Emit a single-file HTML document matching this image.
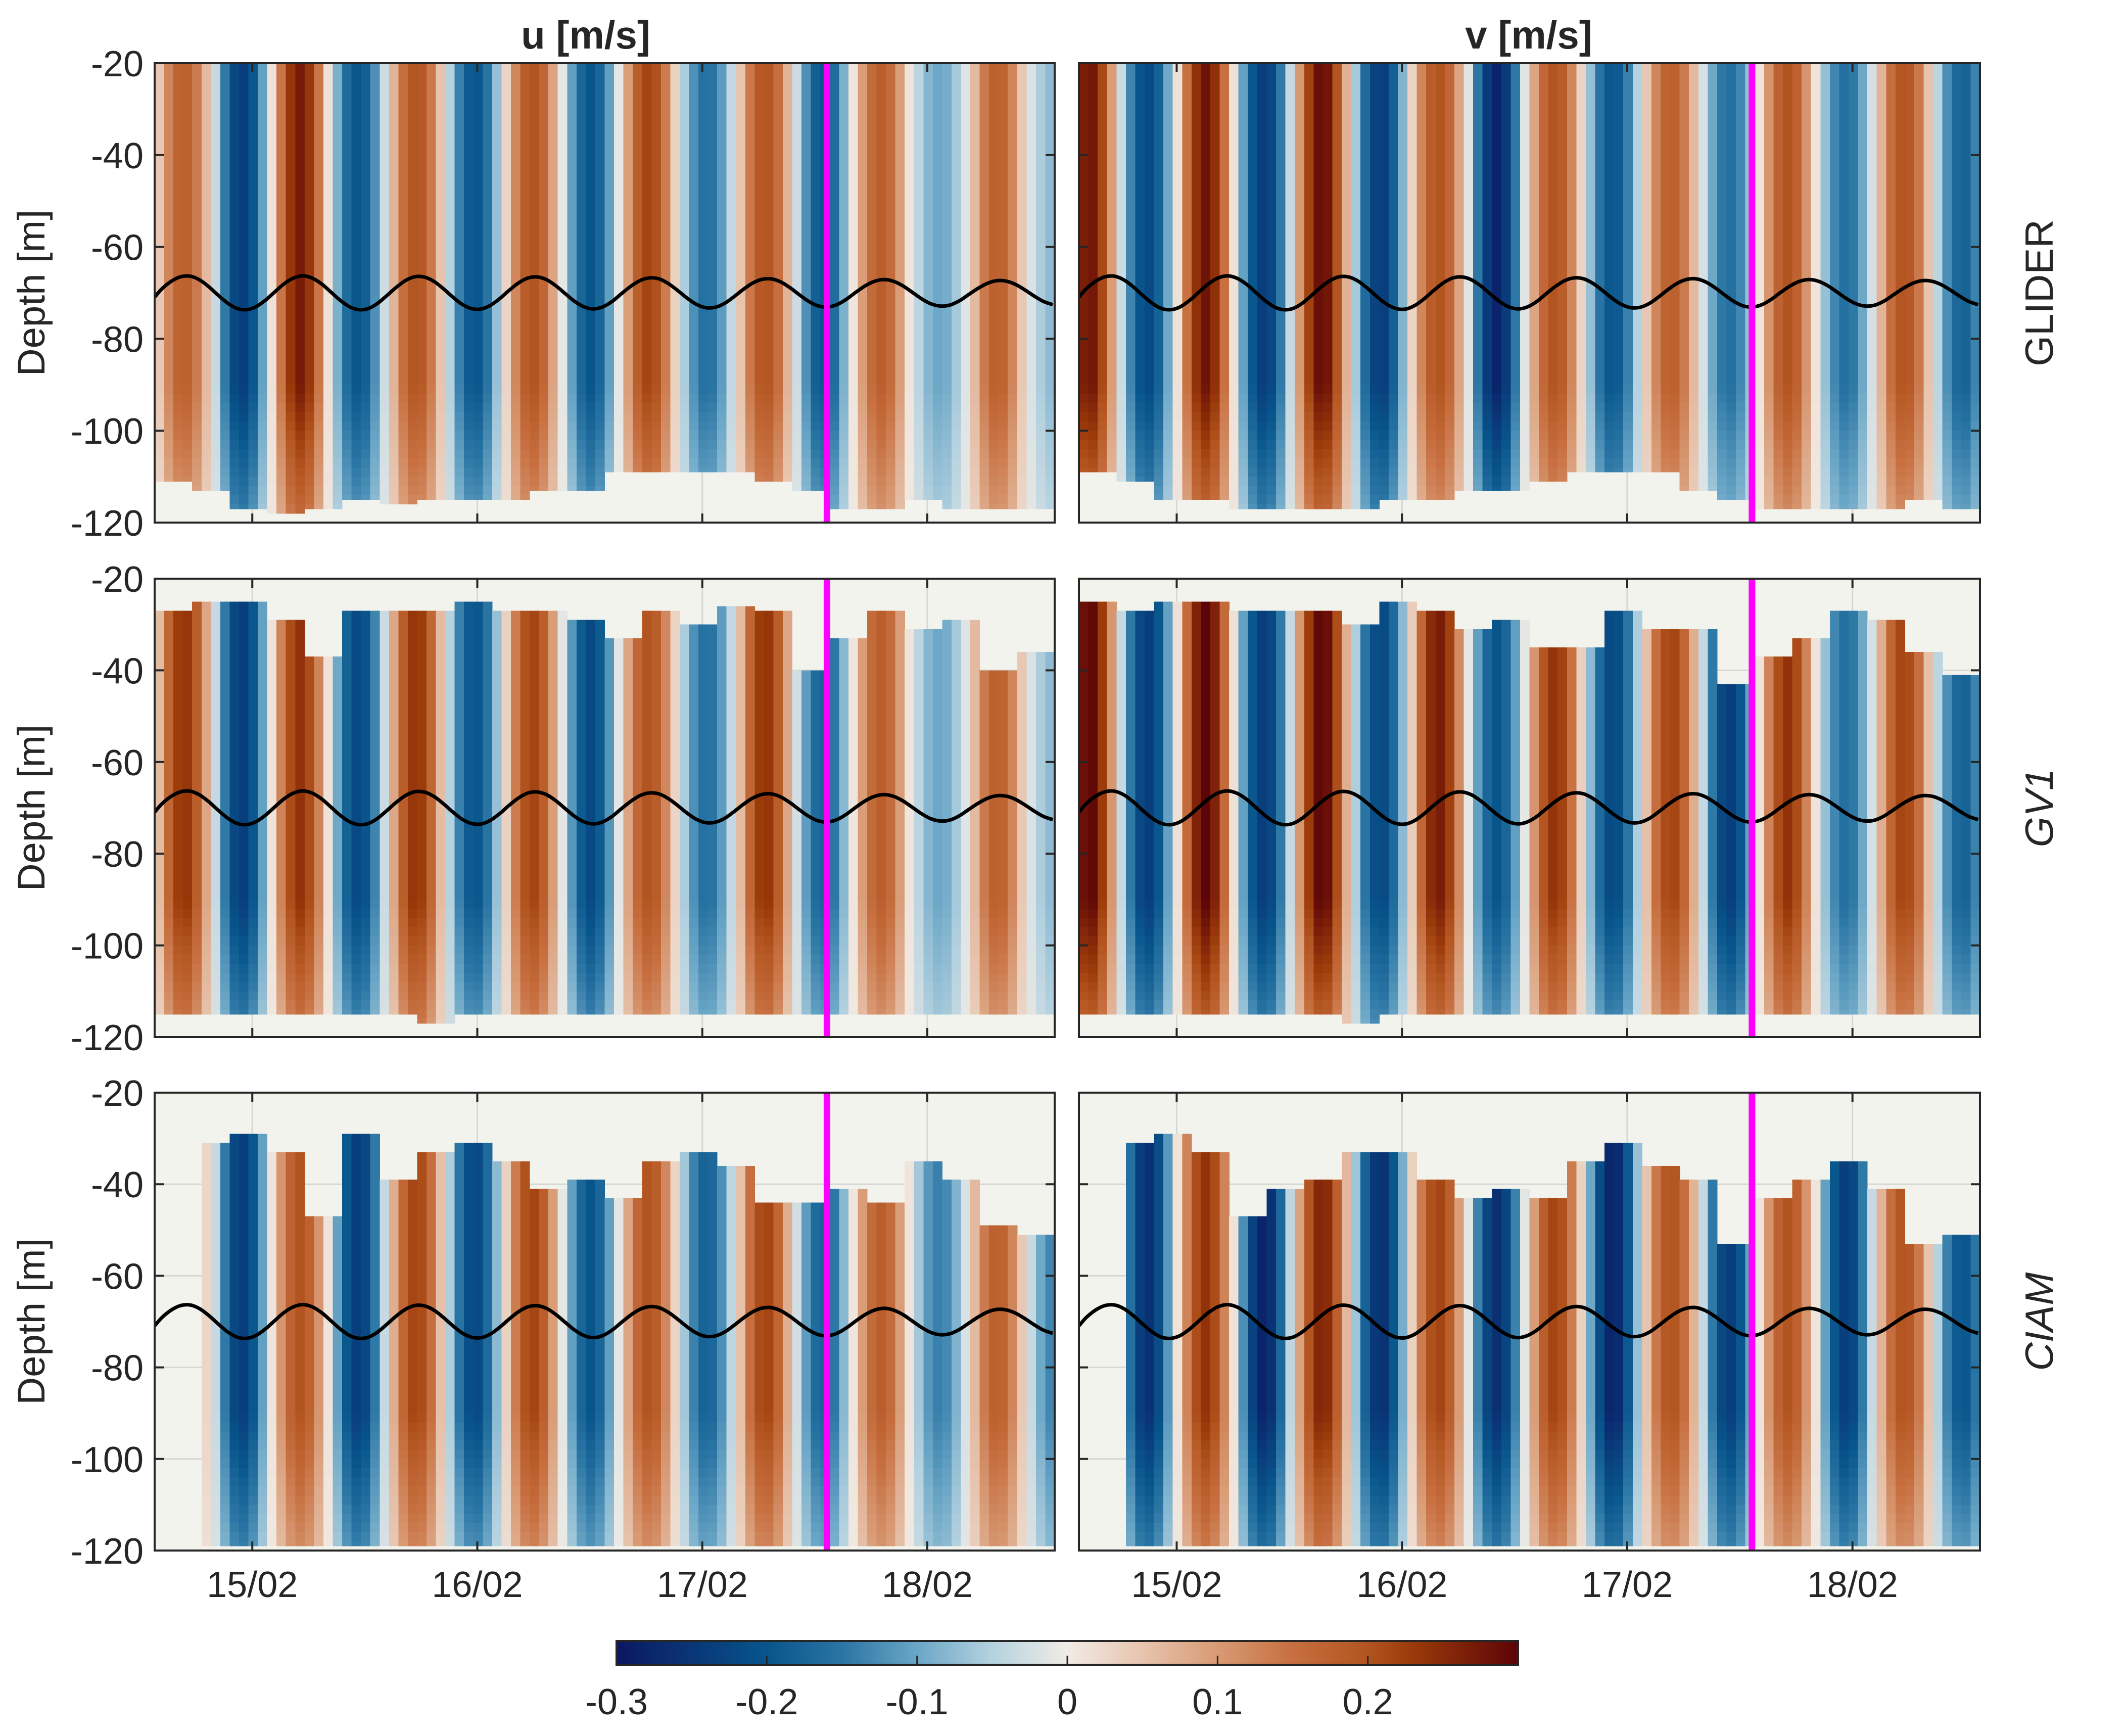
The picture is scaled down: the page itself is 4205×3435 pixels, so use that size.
<!DOCTYPE html>
<html><head><meta charset="utf-8"><style>
html,body{margin:0;padding:0;background:#fff}
svg text{font-family:"Liberation Sans",sans-serif;fill:#262626}
</style></head><body>
<svg id="fig" xmlns="http://www.w3.org/2000/svg" width="4205" height="3430" viewBox="0 0 4205 3430">
<rect width="4205" height="3430" fill="#fff"/>
<g id="panels"></g>
<g id="cbar"></g>
</svg>
<script>
// ---- data ----
// normalized tidal shape (hundredths), hours -1..97
const tideShape = [-25, 25,69,95,98,76,35,-15,-61,-92,-99,-82,-44,5,53,87,100,87,53,5,-44,-82,-99,-92,-61,-15,35,76,98,95,69,25,-25,-69,-95,-98,-76,-35,15,61,92,99,82,44,-5,-53,-87,-100,-87,-53,-5,44,82,99,92,61,15,-35,-76,-98,-95,-69,-25, 25,69,95,98,76,35,-15,-61,-92,-99,-82,-44,5,53,87,100,87,53,5,-44,-82,-99,-92,-61,-15,35,76,98,95,69,25,-25,-69,-95,-98,-76];
// half-cycle amplitudes (cm/s)
const uGliderAmp = [18,24,27,20,20,20,20,20,22,16,20,20,18,10,18,8,8];
const vGliderAmp = [28,22,28,24,29,24,20,28,20,20,18,16,20,16,20,18,18];
const uGv1Amp   = [24,24,24,22,24,20,22,22,20,16,24,18,18,10,18,8,8];
const vGv1Amp   = [30,24,30,24,30,22,27,20,24,22,22,24,24,16,22,18,18];
const uCiamAmp  = [8,24,20,24,22,22,22,20,20,18,22,18,18,14,18,14,14];
const vCiamAmp  = [0,26,24,28,26,26,22,26,22,28,20,24,20,24,20,20,20];
// data top/bottom depth per 4-hour block
const gliderTop = [-20,-20,-20,-20,-20,-20,-20,-20,-20,-20,-20,-20,-20,-20,-20,-20,-20,-20,-20,-20,-20,-20,-20,-20];
const uGliderBot = [-111,-113,-117,-118,-117,-115,-116,-115,-115,-115,-113,-113,-109,-109,-109,-109,-111,-113,-117,-117,-115,-117,-117,-117];
const vGliderBot = [-109,-111,-115,-115,-117,-117,-117,-117,-115,-115,-113,-113,-111,-109,-109,-109,-113,-115,-117,-117,-117,-117,-115,-117];
const uGv1Top = [-27,-25,-25,-29,-37,-27,-27,-27,-25,-27,-27,-29,-33,-27,-30,-26,-27,-40,-33,-27,-31,-29,-40,-36];
const vGv1Top = [-25,-27,-25,-25,-27,-27,-27,-30,-25,-27,-31,-29,-35,-35,-27,-31,-31,-43,-37,-33,-27,-29,-36,-41];
const gv1Bot = [-115,-115,-115,-115,-115,-115,-115,-117,-115,-115,-115,-115,-115,-115,-115,-115,-115,-115,-115,-115,-115,-115,-115,-115];
const uCiamTop = [-33,-31,-29,-33,-47,-29,-39,-33,-31,-35,-41,-39,-43,-35,-33,-36,-44,-44,-41,-44,-35,-39,-49,-51];
const vCiamTop = [-31,-31,-29,-33,-47,-41,-39,-33,-33,-39,-43,-41,-43,-35,-31,-36,-39,-53,-43,-39,-35,-41,-53,-51];
const ciamBot = [-119,-119,-119,-119,-119,-119,-119,-119,-119,-119,-119,-119,-119,-119,-119,-119,-119,-119,-119,-119,-119,-119,-119,-119];
const isoAmp = [3.7,3.7,3.6,3.5,3.3,3.1,2.9,2.7,2.5];
const yTicks = [-20,-40,-60,-80,-100,-120];
const xTickDays = [15,16,17,18];
const xTickLabels = ["15/02","16/02","17/02","18/02"];
const cbTicks = [-0.3,-0.2,-0.1,0,0.1,0.2];
const cbTickLabels = ["-0.3","-0.2","-0.1","0","0.1","0.2"];
const markerDay = 17.554;

// ---- layout ----
const NS="http://www.w3.org/2000/svg";
const cols=[[306,2087],[2135,3918]];
const rows=[[125,1034],[1145,2052],[2162,3068]];
const t0=14.566, nH=96;
const stops=[[-0.3,[11,23,97]],[-0.2,[8,85,140]],[-0.15,[42,117,164]],[-0.1,[106,166,198]],[-0.05,[181,210,224]],[0,[241,236,230]],[0.05,[231,196,174]],[0.1,[216,154,116]],[0.15,[199,111,64]],[0.2,[178,84,31]],[0.23,[155,58,10]],[0.3,[92,4,7]]];
function color(v){v=Math.max(-0.3,Math.min(0.3,v));for(let i=0;i<stops.length-1;i++){const a=stops[i],b=stops[i+1];if(v<=b[0]){const f=(v-a[0])/(b[0]-a[0]);const c=a[1].map((x,k)=>Math.round(x+(b[1][k]-x)*f));return `rgb(${c[0]},${c[1]},${c[2]})`;}}return 'rgb(92,4,7)';}
function el(tag,attrs,parent){const e=document.createElementNS(NS,tag);for(const k in attrs)e.setAttribute(k,attrs[k]);parent.appendChild(e);return e;}
const root=document.getElementById('panels');

const panels=[
 {r:0,c:0,amp:uGliderAmp,shift:1,top:gliderTop,bot:uGliderBot,start:0,name:'u-glider'},
 {r:0,c:1,amp:vGliderAmp,shift:3,top:gliderTop,bot:vGliderBot,start:0,name:'v-glider'},
 {r:1,c:0,amp:uGv1Amp,shift:1,top:uGv1Top,bot:gv1Bot,start:0,name:'u-gv1'},
 {r:1,c:1,amp:vGv1Amp,shift:3,top:vGv1Top,bot:gv1Bot,start:0,name:'v-gv1'},
 {r:2,c:0,amp:uCiamAmp,shift:1,top:uCiamTop,bot:ciamBot,start:5,name:'u-ciam'},
 {r:2,c:1,amp:vCiamAmp,shift:3,top:vCiamTop,bot:ciamBot,start:5,name:'v-ciam'}];

panels.forEach(p=>{
 const [x0,x1]=cols[p.c],[y0,y1]=rows[p.r];
 const xs=d=>x0+(d-t0)/4*(x1-x0);
 const xh=h=>x0+h/nH*(x1-x0);
 const ys=d=>y0+(-20-d)/100*(y1-y0);
 const g=el('g',{},root);
 
 
 const bg=el('rect',{x:x0,y:y0,width:x1-x0,height:y1-y0,fill:'#f3f3ee'},g);
 
 
 xTickDays.forEach(d=>{const l=el('line',{x1:xs(d),x2:xs(d),y1:y0,y2:y1,stroke:'#d6d6d2','stroke-width':3},g);
  });
 yTicks.forEach(d=>{const l=el('line',{x1:x0,x2:x1,y1:ys(d),y2:ys(d),stroke:'#d6d6d2','stroke-width':3},g);
  });
 // heatmap
 const hm=el('g',{'shape-rendering':'crispEdges'},g);
 
 
 let seg=0,prevSign=Math.sign(tideShape[p.shift]);
 for(let h=0;h<nH;h++){
  const idx=h+p.shift;const s=Math.sign(tideShape[idx])||prevSign;
  if(s!==prevSign){seg++;prevSign=s;}
  if(h<p.start)continue;
  const val=p.amp[Math.min(seg,p.amp.length-1)]*tideShape[idx]/10000;
  const top=p.top[Math.floor(h/4)],bot=p.bot[Math.floor(h/4)];
  const xa=xh(h),w=xh(h+1)-xa+0.6;
  const fadeStart=-90;
  if(top>fadeStart){
   const c=el('rect',{x:xa,y:ys(top),width:w,height:ys(fadeStart)-ys(top)+0.6,fill:color(val)},hm);
   
  }
  for(let d=Math.min(top,fadeStart);d>bot;d-=2){
   const dd=Math.max(d-2,bot);
   const f=1-0.4*Math.min(1,(fadeStart-(d-1))/28);
   const c=el('rect',{x:xa,y:ys(d),width:w,height:ys(dd)-ys(d)+0.6,fill:color(val*f)},hm);
   
  }
 }
 // isotherm curve
 const pts=[];
 for(let k=0;k<tideShape.length;k++){
  const t=k-0.2; if(t<0||t>nH) { if(t<0){} else continue; }
  const a=isoAmp[Math.min(isoAmp.length-1,Math.floor(Math.max(0,t)/12.4))];
  pts.push([xh(Math.max(0,t)),ys(-70+a*tideShape[k]/100)]);
 }
 let dstr=`M${pts[0][0]},${pts[0][1]}`;
 for(let i=0;i<pts.length-1;i++){const p0=pts[Math.max(0,i-1)],p1=pts[i],p2=pts[i+1],p3=pts[Math.min(pts.length-1,i+2)];
  dstr+=` C${p1[0]+(p2[0]-p0[0])/6},${p1[1]+(p2[1]-p0[1])/6} ${p2[0]-(p3[0]-p1[0])/6},${p2[1]-(p3[1]-p1[1])/6} ${p2[0]},${p2[1]}`;}
 const clipId='clip'+p.r+p.c;
 const cp=el('clipPath',{id:clipId},g);el('rect',{x:x0,y:y0,width:x1-x0,height:y1-y0},cp);
 const iso=el('path',{d:dstr,fill:'none',stroke:'#000','stroke-width':7,'clip-path':`url(#${clipId})`},g);
 
 
 // marker line
 const m=el('line',{x1:xs(markerDay),x2:xs(markerDay),y1:y0,y2:y1,stroke:'#ff00ff','stroke-width':13},g);
 
 
 // frame and ticks
 const fr=el('rect',{x:x0,y:y0,width:x1-x0,height:y1-y0,fill:'none',stroke:'#262626','stroke-width':4},g);
 
 
 yTicks.forEach(d=>{el('line',{x1:x0,x2:x0+18,y1:ys(d),y2:ys(d),stroke:'#262626','stroke-width':4},g);
  el('line',{x1:x1,x2:x1-18,y1:ys(d),y2:ys(d),stroke:'#262626','stroke-width':4},g);
  if(p.c===0){const t=el('text',{x:x0-22,y:ys(d)+26,'text-anchor':'end','font-size':72},g);t.textContent=d;
   }});
 xTickDays.forEach((d,i)=>{el('line',{x1:xs(d),x2:xs(d),y1:y1,y2:y1-18,stroke:'#262626','stroke-width':4},g);
  el('line',{x1:xs(d),x2:xs(d),y1:y0,y2:y0+18,stroke:'#262626','stroke-width':4},g);
  if(p.r===2){const t=el('text',{x:xs(d),y:y1+92,'text-anchor':'middle','font-size':72},g);t.textContent=xTickLabels[i];
   }});
 if(p.c===0){const cy=(y0+y1)/2;const t=el('text',{x:0,y:0,transform:`translate(88,${cy}) rotate(-90)`,'text-anchor':'middle','font-size':76},g);t.textContent='Depth [m]';
  }
});
// titles and row labels
[["u [m/s]",1159],["v [m/s]",3025]].forEach(([s,x])=>{const t=el('text',{x:x,y:96,'text-anchor':'middle','font-size':78,'font-weight':'bold'},root);t.textContent=s;
 });
[["GLIDER",0],["GV1",1],["CIAM",2]].forEach(([s,r])=>{const cy=(rows[r][0]+rows[r][1])/2;
 const t=el('text',{transform:`translate(4062,${cy}) rotate(-90)`,'text-anchor':'middle','font-size':78,'font-style':r>0?'italic':'normal'},root);t.textContent=s;
 });
// colorbar
const cb=document.getElementById('cbar');
const cbx0=1220,cbx1=3004,cby0=3247,cby1=3294;
const cbx=v=>cbx0+(v+0.3)/0.6*(cbx1-cbx0);
const defs=el('defs',{},cb);const lg=el('linearGradient',{id:'cbg',x1:0,x2:1,y1:0,y2:0},defs);
stops.forEach(s=>{el('stop',{offset:(s[0]+0.3)/0.6,'stop-color':`rgb(${s[1].join(',')})`},lg);});
const cbr=el('rect',{x:cbx0,y:cby0,width:cbx1-cbx0,height:cby1-cby0,fill:'url(#cbg)',stroke:'#262626','stroke-width':4},cb);


cbTicks.forEach((v,i)=>{if(i>0)el('line',{x1:cbx(v),x2:cbx(v),y1:cby1,y2:cby1-18,stroke:'#262626','stroke-width':3},cb);
 const t=el('text',{x:cbx(v),y:3392,'text-anchor':'middle','font-size':72},cb);t.textContent=cbTickLabels[i];
 });
</script>
</body></html>
